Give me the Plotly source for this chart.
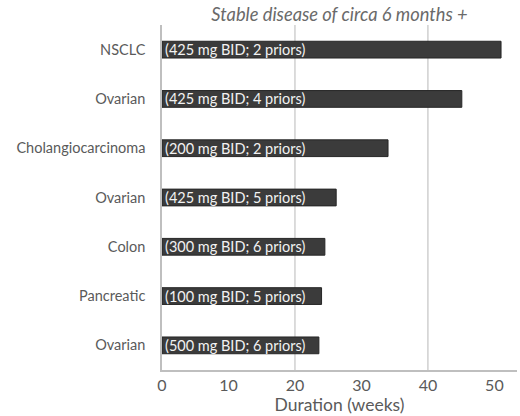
import plotly.graph_objects as go

categories = ["NSCLC", "Ovarian", "Cholangiocarcinoma", "Ovarian", "Colon", "Pancreatic", "Ovarian"]
durations = [51.0, 45.1, 34.0, 26.2, 24.5, 24.0, 23.6]
regimens = ["(425 mg BID; 2 priors)", "(425 mg BID; 4 priors)", "(200 mg BID; 2 priors)",
            "(425 mg BID; 5 priors)", "(300 mg BID; 6 priors)", "(100 mg BID; 5 priors)",
            "(500 mg BID; 6 priors)"]
x_ticks = [0, 10, 20, 30, 40, 50]
grid_values = [20, 40]
positions = list(range(len(categories)))

FONT = "Lato, 'Open Sans', sans-serif"
GRAY = "#5a5a5a"

fig = go.Figure()
fig.add_trace(go.Bar(
    x=durations, y=positions, orientation="h",
    marker=dict(color="#3b3b3b", line=dict(color="#262626", width=1)),
    width=0.34,
    text=regimens, textposition="inside", insidetextanchor="start",
    textfont=dict(color="#f2f2f2", size=14.5, family=FONT),
    constraintext="none", cliponaxis=False,
    hoverinfo="skip",
))

for g in grid_values:
    fig.add_shape(type="line", xref="x", yref="paper", x0=g, x1=g, y0=0, y1=1,
                  line=dict(color="#c4c4c4", width=1.2), layer="below")

rng = [0, 53.4]
fig.update_layout(
    width=520, height=416,
    margin=dict(l=162, r=3, t=25, b=46, autoexpand=False),
    paper_bgcolor="white", plot_bgcolor="white",
    showlegend=False,
    font=dict(family=FONT, color=GRAY),
    title=dict(text="<i>Stable disease of circa 6 months +</i>", x=0.5, xref="paper",
               y=1 - 15 / 416, yanchor="middle", automargin=False,
               font=dict(size=18.3, color="#6a6a6a", family=FONT)),
    xaxis=dict(range=rng, tickvals=x_ticks, automargin=False,
               showgrid=False, zeroline=False, showline=True, linecolor="#bfbfbf", linewidth=1.5,
               ticks="", tickfont=dict(size=16, color=GRAY),
               title=dict(text="Duration (weeks)", font=dict(size=17.5, color=GRAY), standoff=0)),
    yaxis=dict(tickvals=positions, ticktext=categories, autorange=False,
               range=[6.5, -0.5], showgrid=False, zeroline=False, automargin=False,
               showline=True, linecolor="#bfbfbf", linewidth=1.5,
               ticks="", ticklabelstandoff=12,
               tickfont=dict(size=14.5, color=GRAY)),
)

fig.write_html("out.html", config={"displayModeBar": False},
               post_script="document.body.style.margin='0';")
